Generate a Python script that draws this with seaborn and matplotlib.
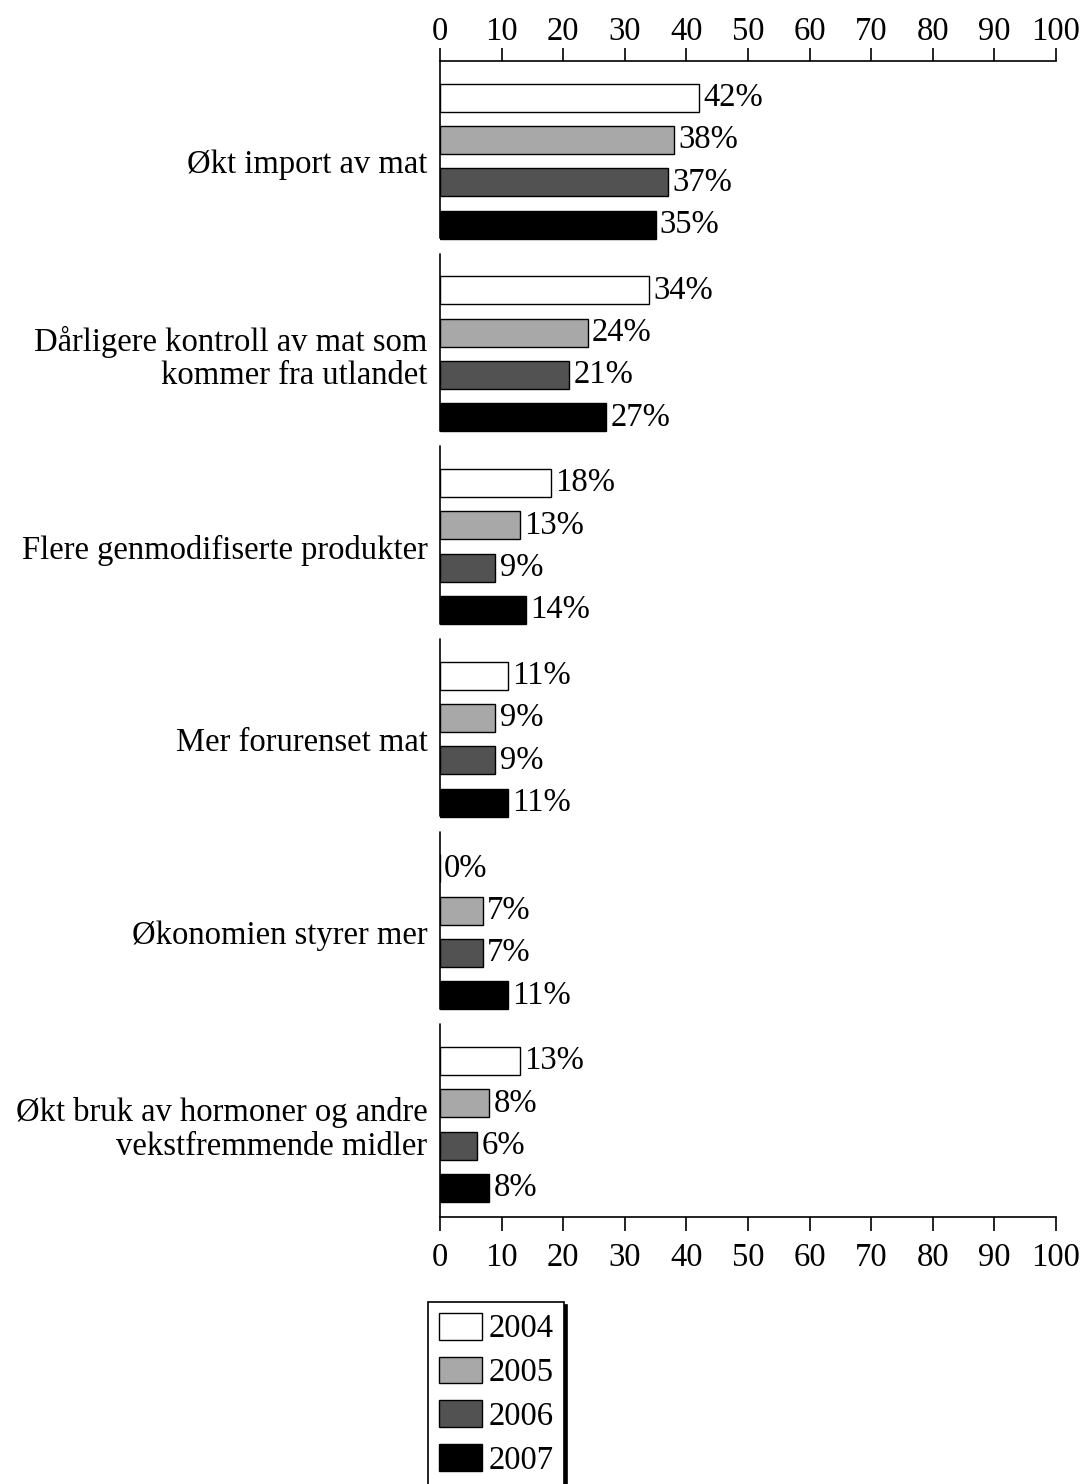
import matplotlib
matplotlib.use('Agg')
import matplotlib.pyplot as plt
import seaborn as sns
import pandas as pd

categories = [
    "Økt import av mat",
    "Dårligere kontroll av mat som\nkommer fra utlandet",
    "Flere genmodifiserte produkter",
    "Mer forurenset mat",
    "Økonomien styrer mer",
    "Økt bruk av hormoner og andre\nvekstfremmende midler",
]
years = ["2004", "2005", "2006", "2007"]
v2004 = [42, 34, 18, 11, 0, 13]
v2005 = [38, 24, 13, 9, 7, 8]
v2006 = [37, 21, 9, 9, 7, 6]
v2007 = [35, 27, 14, 11, 11, 8]
xticks = list(range(0, 101, 10))
colors = ["#ffffff", "#a8a8a8", "#525252", "#000000"]

rows = []
for yr, vals in zip(years, [v2004, v2005, v2006, v2007]):
    for cat, v in zip(categories, vals):
        rows.append({"category": cat, "year": yr, "value": v})
df = pd.DataFrame(rows)

sns.set_style("white")
plt.rcParams['font.family'] = ['Liberation Serif', 'DejaVu Serif']
for k in ['text.color', 'axes.labelcolor', 'xtick.color', 'ytick.color', 'axes.edgecolor']:
    plt.rcParams[k] = 'black'

FS = 23.5

fig = plt.figure(figsize=(10.87, 14.84), dpi=100)
ax = fig.add_axes([440 / 1087, 1 - 1217 / 1484, 616 / 1087, (1217 - 61) / 1484])

sns.barplot(data=df, x="value", y="category", hue="year", orient="h",
            palette=colors, width=0.88, gap=0.34, saturation=1,
            edgecolor="black", linewidth=1.0, ax=ax, order=categories,
            hue_order=years)

ax.set_xlim(0, 100)
ax.set_ylim(5.48, -0.52)
ax.set_xticks(xticks)
ax.set_xlabel("")
ax.set_ylabel("")
ax.tick_params(axis='x', top=False, labeltop=False, bottom=True, labelbottom=True,
               direction='out', length=10, width=1.2, labelsize=FS, pad=8,
               color='black', labelcolor='black')
ax.tick_params(axis='y', length=0, pad=9, labelsize=FS, labelcolor='black')
for lbl in ax.get_yticklabels():
    lbl.set_linespacing(1.12)

sec = ax.secondary_xaxis('top')
sec.set_xticks(xticks)
sec.tick_params(axis='x', direction='out', length=9.5, width=1.2, labelsize=FS,
                pad=0.5, color='black', labelcolor='black')
sec.spines['top'].set_linewidth(1.2)
sec.spines['top'].set_color('black')

for s in ["left", "right", "top"]:
    ax.spines[s].set_visible(False)
ax.spines["bottom"].set_visible(True)
ax.spines["bottom"].set_color("black")
ax.spines["bottom"].set_linewidth(1.2)

n = len(categories)
for i in range(n):
    y1 = i + 0.40 if i < n - 1 else 5.48
    ax.plot([0, 0], [i - 0.52, y1], color="black", lw=1.2, clip_on=False)

for c in ax.containers:
    ax.bar_label(c, labels=[f"{int(v)}%" for v in c.datavalues], padding=3,
                 fontsize=FS, color='black')

handles, labels = ax.get_legend_handles_labels()
if ax.get_legend() is not None:
    ax.get_legend().remove()
leg = fig.legend(handles, labels, loc='upper left',
                 bbox_to_anchor=(428 / 1087, 1 - 1302 / 1484),
                 frameon=True, fancybox=False, edgecolor='black', framealpha=1,
                 shadow={'color': 'black', 'alpha': 1}, fontsize=FS,
                 handlelength=1.32, handleheight=0.89, labelspacing=0.37,
                 handletextpad=0.2, borderpad=0.33, borderaxespad=0)
leg.get_frame().set_linewidth(1.2)

fig.savefig("out.png", dpi=100)
